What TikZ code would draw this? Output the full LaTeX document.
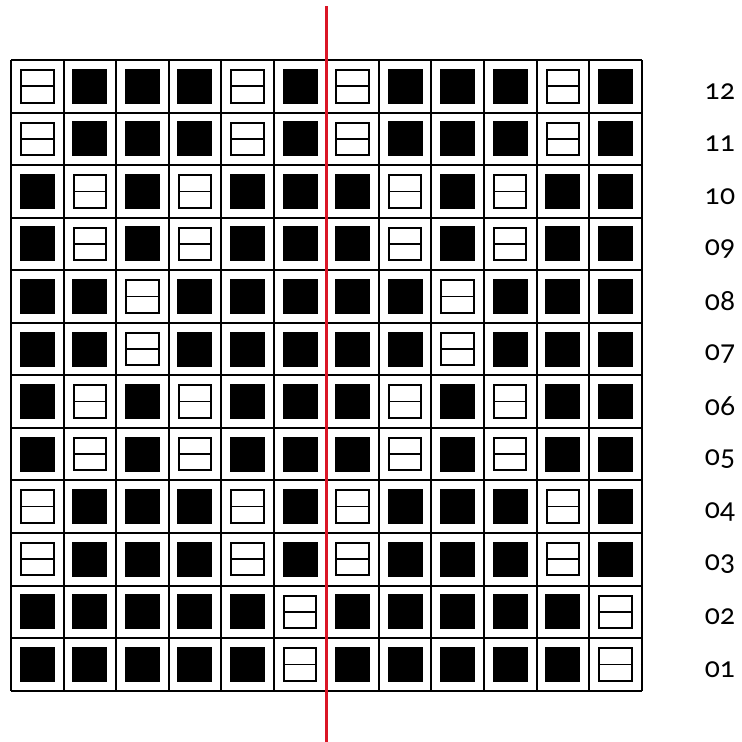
\documentclass[tikz,border=0pt]{standalone}
\usepackage{fontspec}
\newfontfamily\numfont[Numbers=OldStyle]{Lato}
\usetikzlibrary{positioning,calc}
\definecolor{cutred}{RGB}{218,22,38}

\begin{document}
\begin{tikzpicture}[
    x=1pt, y=-1pt,
    gridline/.style={line width=2pt, black},
    blackcell/.style={rectangle, fill=black, minimum size=35pt, inner sep=0pt},
    opencell/.style={rectangle, draw, line width=2pt, fill=white, minimum size=32.5pt, inner sep=0pt,
        path picture={\draw[line width=1.6pt] (path picture bounding box.west) -- (path picture bounding box.east);}},
    rowlabel/.style={font=\numfont\fontsize{28}{28}\selectfont, anchor=center},
    redline/.style={line width=3pt, cutred}
]
    \useasboundingbox (0,0) rectangle (742,742);
    \def\cw{52.55}

    % cells, top row first (1 = open, 0 = black)
    \foreach \row [count=\r] in {
        {1,0,0,0,1,0,1,0,0,0,1,0},
        {1,0,0,0,1,0,1,0,0,0,1,0},
        {0,1,0,1,0,0,0,1,0,1,0,0},
        {0,1,0,1,0,0,0,1,0,1,0,0},
        {0,0,1,0,0,0,0,0,1,0,0,0},
        {0,0,1,0,0,0,0,0,1,0,0,0},
        {0,1,0,1,0,0,0,1,0,1,0,0},
        {0,1,0,1,0,0,0,1,0,1,0,0},
        {1,0,0,0,1,0,1,0,0,0,1,0},
        {1,0,0,0,1,0,1,0,0,0,1,0},
        {0,0,0,0,0,1,0,0,0,0,0,1},
        {0,0,0,0,0,1,0,0,0,0,0,1}}
    {
        \foreach \v [count=\c] in \row {
            \ifnum\v=1
                \node[opencell] (c\r-\c) at ({11+(\c-0.5)*\cw}, {60+(\r-0.5)*\cw}) {};
            \else
                \node[blackcell] (c\r-\c) at ({11+(\c-0.5)*\cw}, {60+(\r-0.5)*\cw}) {};
            \fi
        }
    }

    % grid
    \foreach \i in {0,...,12} {
        \draw[gridline] ({11+\i*\cw}, 60) -- ({11+\i*\cw}, {60+12*\cw});
        \draw[gridline] (11, {60+\i*\cw}) -- ({11+12*\cw}, {60+\i*\cw});
    }

    % row numbers
    \foreach \lab [count=\r] in {12,11,10,09,08,07,06,05,04,03,02,01}
        \node[rowlabel] (lab\r) at (720, {65+(\r-0.5)*\cw}) {\lab};

    % centre line
    \coordinate (cuttop) at (326,6);
    \coordinate (cutbot) at (326,742);
    \draw[redline] (cuttop) -- (cutbot);
\end{tikzpicture}
\end{document}
